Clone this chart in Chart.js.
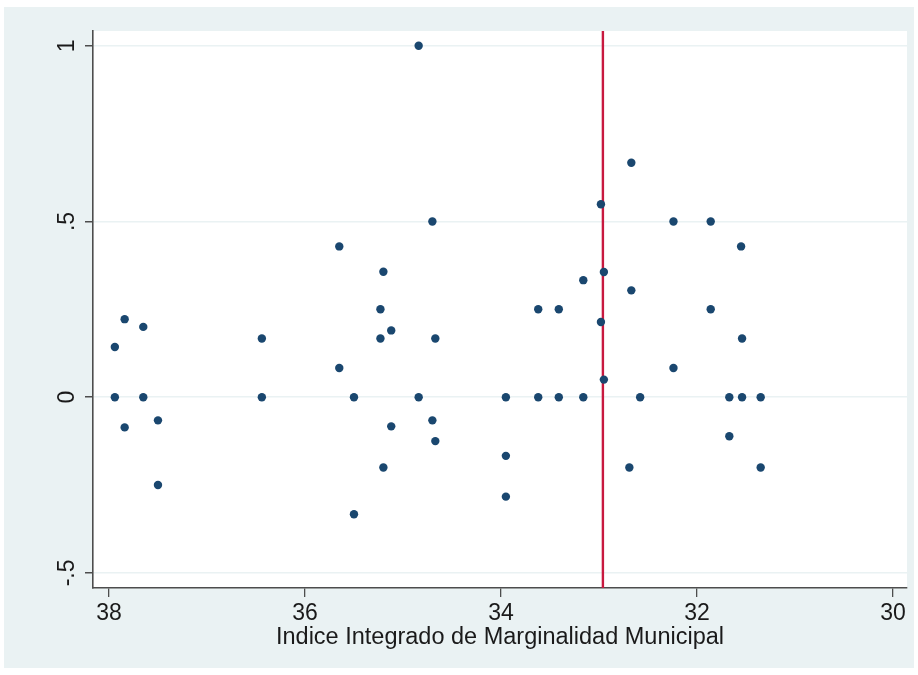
<!DOCTYPE html>
<html>
<head>
<meta charset="utf-8">
<title>Indice Integrado de Marginalidad Municipal</title>
<script src="https://cdn.jsdelivr.net/npm/chart.js@4.4.1/dist/chart.umd.min.js"></script>
<style>
  body { margin: 0; background: #ffffff; }
  #wrap { width: 918px; height: 675px; }
</style>
</head>
<body>
<div id="wrap"><canvas id="myChart" width="918" height="675"></canvas></div>
<script>
const clrFrame = '#EAF2F3';
const clrPoint = '#1A476F';
const clrCutoff = '#C8193F';
const clrAxis = '#4D4D4D';

// municipal marginality index (x) and outcome (y), one entry per municipality
const indice = [
  37.94, 37.94, 37.84, 37.84, 37.65, 37.65, 37.50, 37.50,
  36.44, 36.44,
  35.65, 35.65, 35.50, 35.50, 35.20, 35.23, 35.23, 35.12, 35.12, 35.20,
  34.84, 34.84, 34.70, 34.70, 34.67, 34.67,
  33.95, 33.95, 33.95, 33.62, 33.62, 33.41, 33.41, 33.16, 33.16,
  32.98, 32.98, 32.95, 32.95, 32.67, 32.67, 32.69, 32.58,
  32.24, 32.24, 31.86, 31.86, 31.67, 31.67, 31.55, 31.54, 31.54, 31.35, 31.35
];
const valores = [
  0.143, 0, 0.222, -0.086, 0.2, 0, -0.066, -0.25,
  0.167, 0,
  0.429, 0.083, 0, -0.333, 0.357, 0.25, 0.167, 0.19, -0.083, -0.2,
  1.0, 0, 0.5, -0.066, 0.167, -0.125,
  0, -0.167, -0.283, 0.25, 0, 0.25, 0, 0.333, 0,
  0.549, 0.214, 0.356, 0.05, 0.667, 0.304, -0.2, 0,
  0.5, 0.083, 0.5, 0.25, 0, -0.111, 0.429, 0.167, 0, 0, -0.2
];
const cutoff = 32.96;

const xTicks = [38, 36, 34, 32, 30];
const yTicks = [-0.5, 0, 0.5, 1];
const yTickLabels = ['-.5', '0', '.5', '1'];
const xTitle = 'Indice Integrado de Marginalidad Municipal';

const points = indice.map((x, i) => ({ x: x, y: valores[i] }));

// light frame round the plot, white plot region
const frame = {
  id: 'frame',
  beforeDraw(chart) {
    const ctx = chart.ctx;
    const a = chart.chartArea;
    ctx.save();
    ctx.fillStyle = clrFrame;
    ctx.fillRect(4, 7, 910, 661);
    ctx.fillStyle = '#ffffff';
    ctx.fillRect(a.left, a.top, a.right - a.left, a.bottom - a.top);
    ctx.restore();
  }
};

// vertical cutoff line, under the points
const cutoffLine = {
  id: 'cutoffLine',
  beforeDatasetsDraw(chart) {
    const ctx = chart.ctx;
    const a = chart.chartArea;
    const px = chart.scales.x.getPixelForValue(cutoff);
    ctx.save();
    ctx.strokeStyle = clrCutoff;
    ctx.lineWidth = 2.4;
    ctx.beginPath();
    ctx.moveTo(px, a.top);
    ctx.lineTo(px, a.bottom);
    ctx.stroke();
    ctx.restore();
  }
};

Chart.defaults.font.family = '"Liberation Sans", Arial, sans-serif';
Chart.defaults.color = '#1a1a1a';

let chart = new Chart('myChart', {
  type: 'scatter',
  data: {
    datasets: [{
      data: points,
      backgroundColor: clrPoint,
      borderWidth: 0,
      pointRadius: 4.2,
      pointHoverRadius: 4.2
    }]
  },
  options: {
    responsive: false,
    animation: false,
    devicePixelRatio: 1,
    layout: { padding: { top: 31, right: 11, left: 0, bottom: 0 } },
    scales: {
      x: {
        type: 'linear',
        reverse: true,
        min: 29.857,
        max: 38.163,
        afterBuildTicks: s => { s.ticks = xTicks.map(v => ({ value: v })); },
        afterFit: s => { s.height = 87; },
        grid: { drawOnChartArea: false, tickLength: 9, tickColor: clrAxis, lineWidth: 1.3 },
        border: { color: clrAxis, width: 1.6 },
        ticks: { font: { size: 23 }, padding: 3, maxRotation: 0, color: '#1a1a1a' },
        title: {
          display: true,
          text: xTitle,
          font: { size: 23.5 },
          color: '#1a1a1a',
          padding: { top: 0, bottom: 23 }
        }
      },
      y: {
        type: 'linear',
        min: -0.543,
        max: 1.042,
        afterBuildTicks: s => { s.ticks = yTicks.map(v => ({ value: v })); },
        afterFit: s => { s.width = 93; },
        grid: { color: clrFrame, lineWidth: 1.5, tickLength: 8, tickColor: clrAxis },
        border: { color: clrAxis, width: 1.6 },
        ticks: {
          font: { size: 23 },
          minRotation: 90,
          maxRotation: 90,
          crossAlign: 'center',
          padding: 4,
          color: '#1a1a1a',
          callback: (v, i) => yTickLabels[i]
        }
      }
    },
    plugins: {
      legend: { display: false },
      tooltip: { enabled: false }
    }
  },
  plugins: [frame, cutoffLine]
});
</script>
</body>
</html>
